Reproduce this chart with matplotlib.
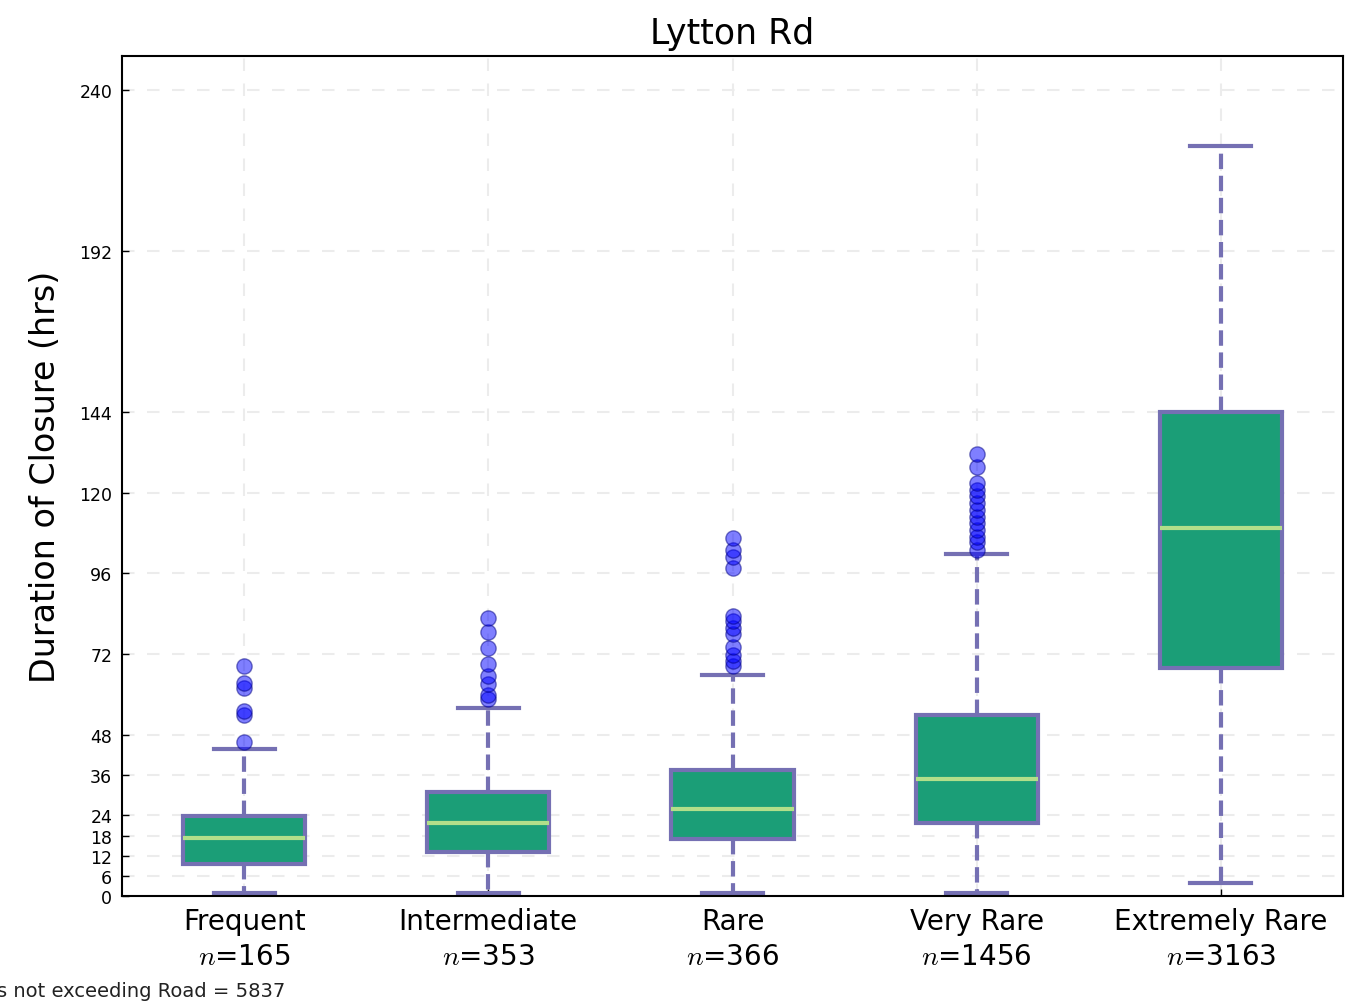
import matplotlib
matplotlib.use("Agg")
import matplotlib.pyplot as plt

categories = ["Frequent", "Intermediate", "Rare", "Very Rare", "Extremely Rare"]
counts = [165, 353, 366, 1456, 3163]
q1 = [9.5, 13.1, 16.9, 21.7, 68.0]
medians = [17.2, 21.7, 25.8, 34.7, 109.6]
q3 = [23.8, 30.9, 37.4, 53.8, 144.0]
whislo = [1.0, 1.0, 1.0, 1.0, 3.9]
whishi = [43.7, 56.1, 65.9, 101.9, 223.3]
fliers = [
    [45.7, 53.8, 55.0, 62.0, 63.3, 68.6],
    [58.5, 59.7, 63.0, 65.6, 68.9, 73.7, 78.7, 82.6],
    [68.6, 69.8, 71.6, 74.0, 78.1, 79.9, 81.7, 83.2, 97.7, 101.0, 103.0, 106.6],
    [103.0, 105.4, 106.9, 109.0, 111.0, 112.9, 115.0, 117.0, 119.1, 120.9, 123.0, 127.7, 131.6],
    [],
]
yticks = [0, 6, 12, 18, 24, 36, 48, 72, 96, 120, 144, 192, 240]
total_text = "Number of events not exceeding Road = 5837"

plt.rcParams["mathtext.fontset"] = "cm"

fig = plt.figure(figsize=(13.64, 10.03), dpi=100)
ax = fig.add_axes([122/1364, 1 - 897/1003, (1343-122)/1364, (897-57)/1003])

stats = []
for i in range(len(categories)):
    stats.append(dict(med=medians[i], q1=q1[i], q3=q3[i], whislo=whislo[i],
                      whishi=whishi[i], fliers=fliers[i], label=categories[i]))

purple = "#7570b3"
bp = ax.bxp(stats, positions=range(1, 6), widths=0.5, patch_artist=True,
            boxprops=dict(facecolor="#1b9e77", edgecolor=purple, linewidth=3),
            medianprops=dict(color="#b2df8a", linewidth=3),
            whiskerprops=dict(color=purple, linewidth=3, linestyle="--"),
            capprops=dict(color=purple, linewidth=3),
            flierprops=dict(marker="o", markerfacecolor="blue", markeredgecolor="#000080",
                            markersize=11, alpha=0.5, markeredgewidth=1))

ax.set_ylim(0, 250)
ax.set_xlim(0.5, 5.5)
ax.set_yticks(yticks)
ax.set_yticklabels([str(t) for t in yticks], fontsize=12.5)
ax.set_xticks(range(1, 6))
ax.set_xticklabels([f"{c}\n$n$={n}" for c, n in zip(categories, counts)], fontsize=20,
                   linespacing=1.3)
ax.tick_params(axis="both", direction="in", length=5, width=1)
ax.tick_params(axis="x", pad=8)
ax.tick_params(axis="y", pad=7)
ax.grid(True, linestyle=(0, (6, 6)), color="#ececec", linewidth=1.5)
ax.set_axisbelow(True)
for s in ax.spines.values():
    s.set_linewidth(1.5)

ax.set_title("Lytton Rd", fontsize=25, pad=9)
ax.set_ylabel("Duration of Closure (hrs)", fontsize=24, labelpad=12)

fig.text(285/1364, 1 - 992/1003, total_text, fontsize=14, ha="right", va="center", color="#222222")

fig.savefig("out.png", dpi=100)
